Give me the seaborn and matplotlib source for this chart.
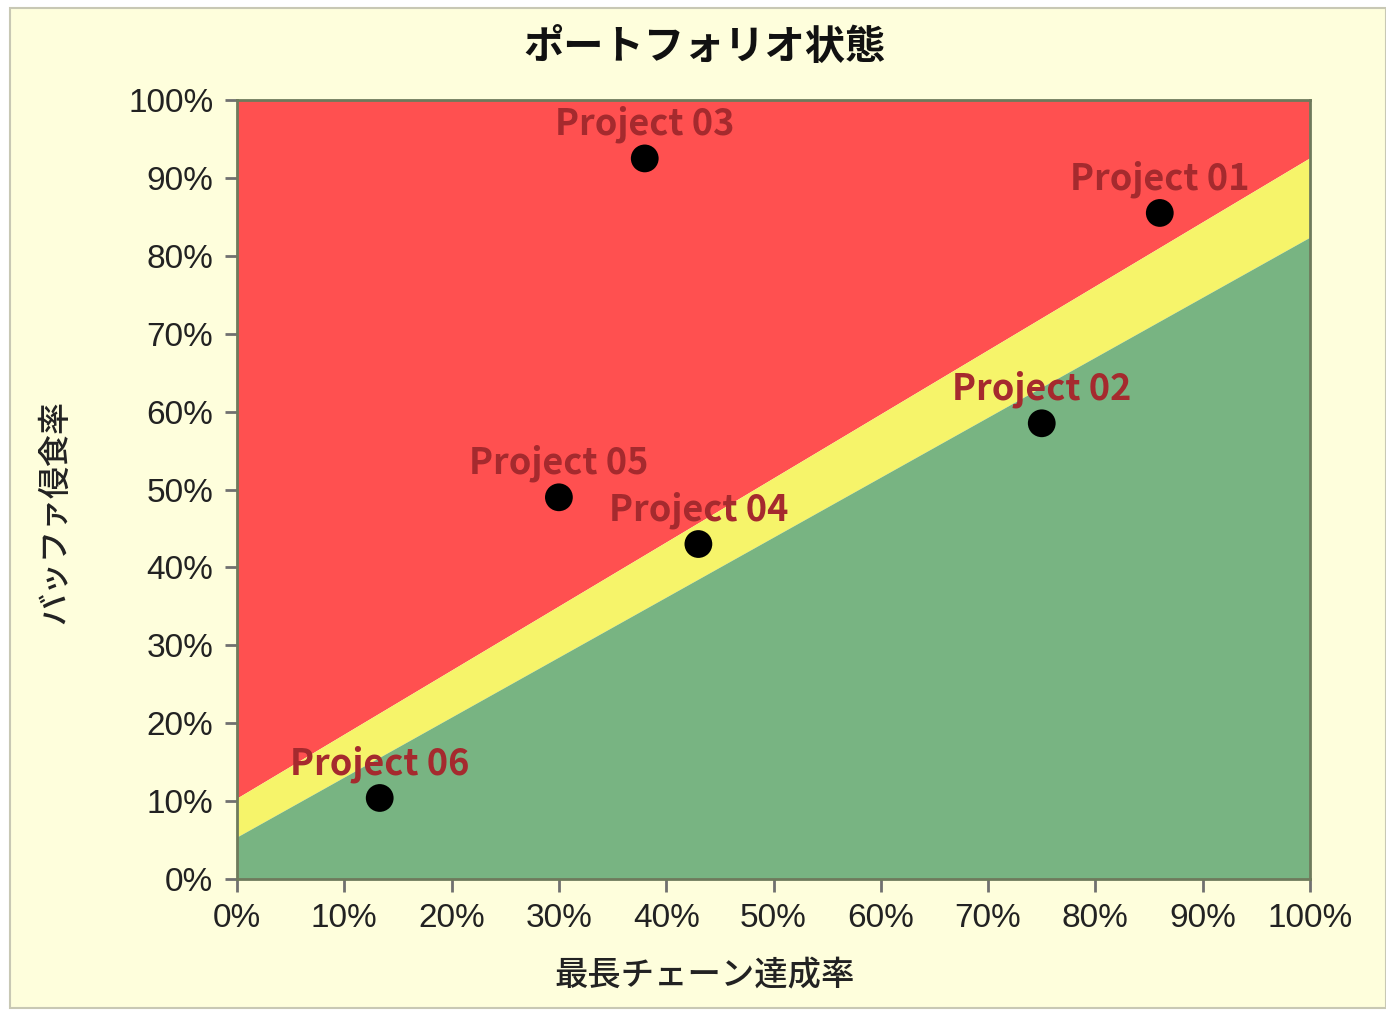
import matplotlib
matplotlib.use("Agg")
import matplotlib.pyplot as plt
import seaborn as sns
import pandas as pd
from matplotlib.patches import Rectangle
from matplotlib.ticker import PercentFormatter

# project positions (chain completion %, buffer consumption %)
projects = ["Project 01", "Project 02", "Project 03", "Project 04", "Project 05", "Project 06"]
chain_rate = [86, 75, 38, 43, 30, 13.3]
buffer_rate = [85.5, 58.5, 92.5, 43, 49, 10.4]

# zone boundaries (straight lines across the chart)
line_x = [0, 100]
red_line = [10.4, 92.6]
green_line = [5.4, 82.4]

ticks = [0, 10, 20, 30, 40, 50, 60, 70, 80, 90, 100]

df = pd.DataFrame({"chain": chain_rate, "buffer": buffer_rate, "name": projects})

sns.set_style("ticks")
plt.rcParams['font.family'] = ['Noto Sans CJK JP', 'DejaVu Sans']

fig = plt.figure(figsize=(13.86, 10.11), dpi=100)
fig.patch.set_facecolor("white")
# pale yellow panel behind everything
fig.patches.append(Rectangle((10 / 1386, 3 / 1011), 1376 / 1386, 1000 / 1011,
                             transform=fig.transFigure, facecolor="#FEFEDC",
                             edgecolor="#C8C8B4", linewidth=1.5, zorder=-10))

ax = fig.add_axes([237 / 1386, 1 - 879 / 1011, (1310 - 237) / 1386, (879 - 100) / 1011])

# background zones
ax.fill_between(line_x, red_line, 100, color="#FF5050", linewidth=0)
ax.fill_between(line_x, green_line, red_line, color="#F6F46A", linewidth=0)
ax.fill_between(line_x, 0, green_line, color="#78B482", linewidth=0)

sns.scatterplot(data=df, x="chain", y="buffer", ax=ax, s=400, color="black",
                edgecolor="none", zorder=5, legend=False)

for name, px, py in zip(projects, chain_rate, buffer_rate):
    ax.annotate(name, (px, py), xytext=(0, 11), textcoords="offset points",
                ha="center", va="bottom", fontsize=26, fontweight="bold",
                color="#A52A2E", family=['Noto Sans CJK JP', 'DejaVu Sans'])

ax.set_xlim(0, 100)
ax.set_ylim(0, 100)
ax.set_xticks(ticks)
ax.set_yticks(ticks)
ax.xaxis.set_major_formatter(PercentFormatter(decimals=0))
ax.yaxis.set_major_formatter(PercentFormatter(decimals=0))
ax.tick_params(axis="both", length=9, width=2, color="#707070", labelsize=24,
               labelcolor="#222222", pad=8)
for lab in ax.get_xticklabels() + ax.get_yticklabels():
    lab.set_family(['Liberation Sans', 'DejaVu Sans'])

for sp in ax.spines.values():
    sp.set_visible(True)
    sp.set_color("#6E7A5C")
    sp.set_linewidth(2)

ax.set_xlabel("最長チェーン達成率", fontsize=24, fontweight="medium", color="#222222")
ax.set_ylabel("バッファ侵食率", fontsize=23, fontweight="medium", color="#222222")
# label positions in figure pixels, converted to axes coords
ax.xaxis.set_label_coords((705 - 237) / (1310 - 237), -(975 - 879) / (879 - 100))
ax.yaxis.set_label_coords(-(237 - 55) / (1310 - 237), (879 - 512) / (879 - 100))
ax.xaxis.label.set_va("center")
ax.yaxis.label.set_va("center")
fig.text(705 / 1386, 1 - 47 / 1011, "ポートフォリオ状態", ha="center", va="center",
         fontsize=29, fontweight="bold", color="#111111")

fig.savefig("out.png", dpi=100, facecolor=fig.get_facecolor())
